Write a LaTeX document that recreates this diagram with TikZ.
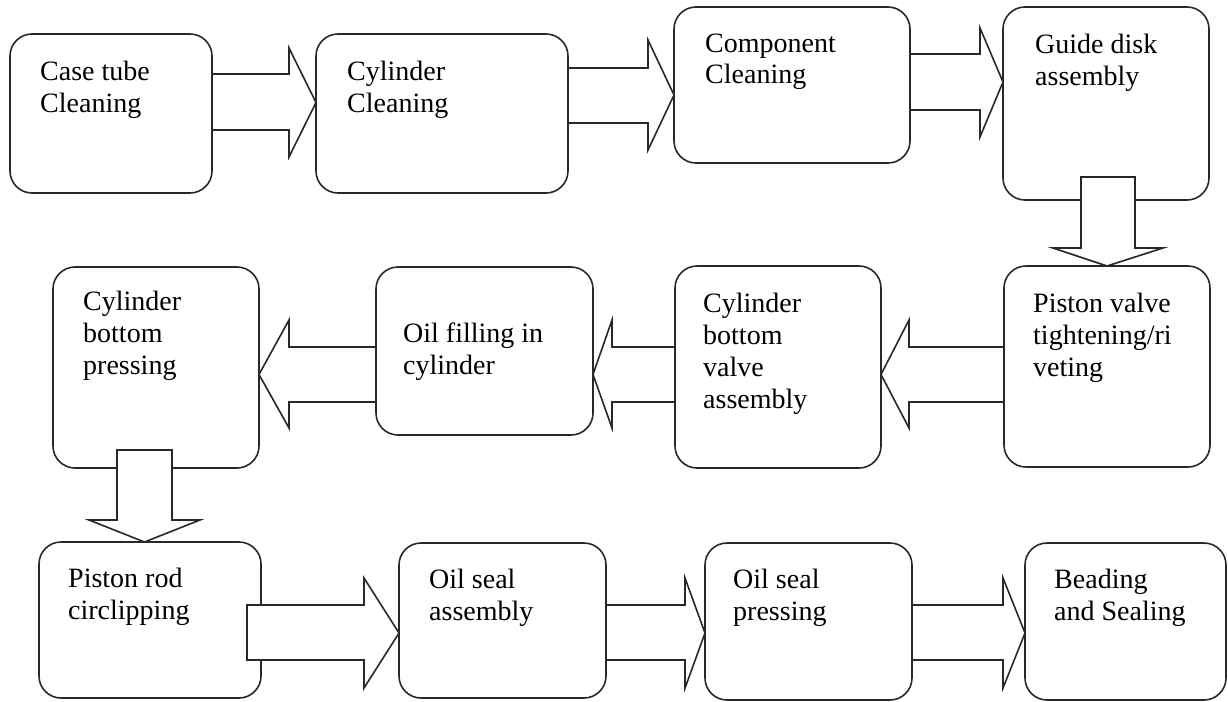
\documentclass[tikz,border=0pt]{standalone}
\usepackage{fontspec}
\setmainfont{Liberation Serif}
\usetikzlibrary{positioning, fit, calc}
\definecolor{LineGray}{RGB}{40, 40, 40}

\begin{document}
\begin{tikzpicture}[x=1pt, y=-1pt,
    stepbox/.style={draw=LineGray, line width=1.6pt, rounded corners=22pt, inner sep=0pt, outer sep=0pt},
    steptext/.style={anchor=base west, align=left, inner sep=0pt, font=\fontsize{28}{32}\selectfont},
    blockarrow/.style={draw=LineGray, line width=1.6pt, fill=white, line join=miter}]
    \useasboundingbox (0,0) rectangle (1228,701);

    % First row
    \node[stepbox, fit={(10,34) (212,193)}] (casetube) {};
    \node[stepbox, fit={(316,34) (568,193)}] (cylclean) {};
    \node[stepbox, fit={(674,7) (910,163)}] (compclean) {};
    \node[stepbox, fit={(1003,7) (1209,200)}] (guide) {};

    % Second row
    \node[stepbox, fit={(1004,266) (1210,467)}] (pistonvalve) {};
    \node[stepbox, fit={(675,266) (881,468)}] (cbvalve) {};
    \node[stepbox, fit={(376,267) (593,435)}] (oilfill) {};
    \node[stepbox, fit={(53,267) (259,468)}] (cbpress) {};

    % Third row
    \node[stepbox, fit={(39,542) (261,698)}] (circlip) {};
    \node[stepbox, fit={(399,543) (606,698)}] (sealasm) {};
    \node[stepbox, fit={(705,543) (912,700)}] (sealpress) {};
    \node[stepbox, fit={(1025,543) (1226,700)}] (beading) {};

    % Block arrows, first row
    \draw[blockarrow] (casetube.east|-0,74) -- (289,74) -- (289,48) -- (cylclean.west|-0,102.5)
        -- (289,157) -- (289,130) -- (casetube.east|-0,130) -- cycle;
    \draw[blockarrow] (cylclean.east|-0,68) -- (648,68) -- (648,40) -- (compclean.west|-0,95)
        -- (648,150) -- (648,123) -- (cylclean.east|-0,123) -- cycle;
    \draw[blockarrow] (compclean.east|-0,54) -- (980,54) -- (980,28) -- (guide.west|-0,82)
        -- (980,137) -- (980,110) -- (compclean.east|-0,110) -- cycle;
    \draw[blockarrow] ([shift={(-25,-23)}]guide.south) -- (1081,248) -- (1053,248) -- (pistonvalve.north)
        -- (1163,248) -- (1135,248) -- ([shift={(29,-23)}]guide.south) -- cycle;

    % Block arrows, second row
    \draw[blockarrow] (pistonvalve.west|-0,347) -- (909,347) -- (909,320) -- (cbvalve.east|-0,374.5)
        -- (909,428) -- (909,402) -- (pistonvalve.west|-0,402) -- cycle;
    \draw[blockarrow] (cbvalve.west|-0,347) -- (612,347) -- (612,320) -- (oilfill.east|-0,374.5)
        -- (612,428) -- (612,402) -- (cbvalve.west|-0,402) -- cycle;
    \draw[blockarrow] (oilfill.west|-0,347) -- (289,347) -- (289,320) -- (cbpress.east|-0,374.5)
        -- (289,428) -- (289,402) -- (oilfill.west|-0,402) -- cycle;
    \draw[blockarrow] ([shift={(-39,-18)}]cbpress.south) -- (117,520) -- (89,520) -- ([xshift=-5.5pt]circlip.north)
        -- (200,520) -- (172,520) -- ([shift={(16,-18)}]cbpress.south) -- cycle;

    % Block arrows, third row
    \draw[blockarrow] ($(circlip.east|-0,605)+(-14,0)$) -- (364,605) -- (364,578) -- (sealasm.west|-0,633)
        -- (364,688) -- (364,660) -- ($(circlip.east|-0,660)+(-14,0)$) -- cycle;
    \draw[blockarrow] (sealasm.east|-0,605) -- (685,605) -- (685,578) -- (sealpress.west|-0,633)
        -- (685,688) -- (685,660) -- (sealasm.east|-0,660) -- cycle;
    \draw[blockarrow] (sealpress.east|-0,605) -- (1003,605) -- (1003,578) -- (beading.west|-0,633)
        -- (1003,688) -- (1003,660) -- (sealpress.east|-0,660) -- cycle;

    % Labels (base is the last line)
    \node[steptext] (t-casetube) at ([shift={(30,78)}]casetube.north west) {Case tube\\Cleaning};
    \node[steptext] (t-cylclean) at ([shift={(31,78)}]cylclean.north west) {Cylinder\\Cleaning};
    \node[steptext] (t-compclean) at ([shift={(31,77)}]compclean.north west) {Component\\Cleaning};
    \node[steptext] (t-guide) at ([shift={(32,78)}]guide.north west) {Guide disk\\assembly};
    \node[steptext] (t-pistonvalve) at ([shift={(29,110)}]pistonvalve.north west) {Piston valve\\tightening/ri\\veting};
    \node[steptext] (t-cbvalve) at ([shift={(28,142)}]cbvalve.north west) {Cylinder\\bottom\\valve\\assembly};
    \node[steptext] (t-oilfill) at ([shift={(27,107)}]oilfill.north west) {Oil filling in\\cylinder};
    \node[steptext] (t-cbpress) at ([shift={(30,107)}]cbpress.north west) {Cylinder\\bottom\\pressing};
    \node[steptext] (t-circlip) at ([shift={(29,77)}]circlip.north west) {Piston rod\\circlipping};
    \node[steptext] (t-sealasm) at ([shift={(30,77)}]sealasm.north west) {Oil seal\\assembly};
    \node[steptext] (t-sealpress) at ([shift={(28,77)}]sealpress.north west) {Oil seal\\pressing};
    \node[steptext] (t-beading) at ([shift={(29,77)}]beading.north west) {Beading\\and Sealing};
\end{tikzpicture}
\end{document}
